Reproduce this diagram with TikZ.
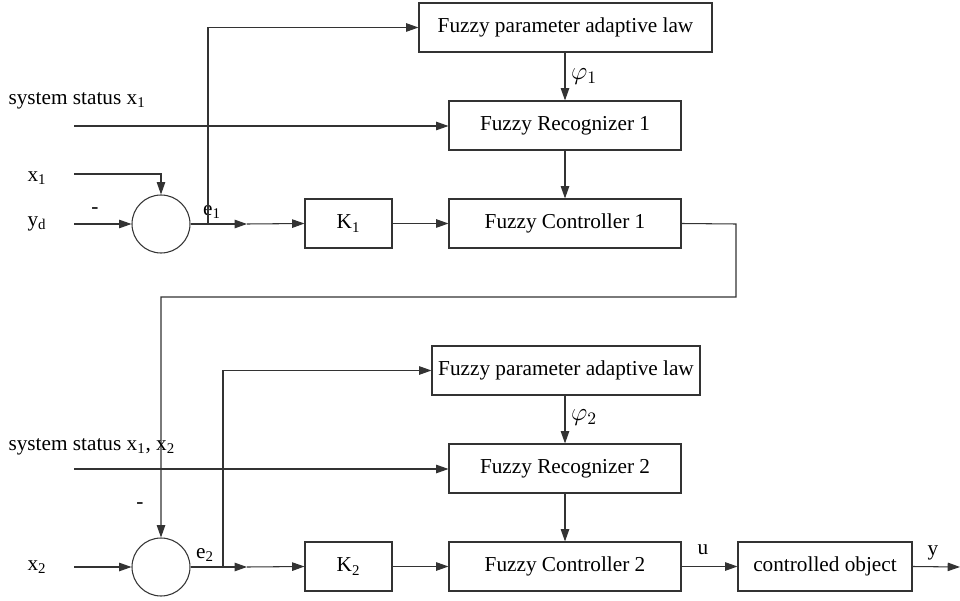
\documentclass[tikz,border=0pt]{standalone}
\usepackage{fontspec}
\setmainfont{Liberation Serif}
\usetikzlibrary{arrows.meta}
\newcommand{\sub}[1]{\textsubscript{#1}}
\begin{document}
\begin{tikzpicture}[x=0.02cm,y=-0.02cm,
  line width=0.6pt, draw=black!80,
  box/.style={draw=black!80, line width=0.6pt, minimum height=49*0.02cm, inner sep=0pt, font=\fontsize{12.1}{14}\selectfont},
  sumc/.style={draw=black!80, circle, minimum size=58*0.02cm, inner sep=0pt},
  lbl/.style={inner sep=0pt, font=\fontsize{12.1}{14}\selectfont},
  phil/.style={inner sep=0pt, font=\fontsize{14.5}{16}\selectfont},
  arr/.style={-{Triangle[length=7pt,width=4.8pt]}}
]
\useasboundingbox (0,0) rectangle (960,601);
% ---- upper loop ----
\node[box, minimum width=293*0.02cm] (al1) at (565.5,27.5) {Fuzzy parameter adaptive law};
\node[box, minimum width=232*0.02cm] (fr1) at (565,125.5) {Fuzzy Recognizer 1};
\node[box, minimum width=232*0.02cm] (fc1) at (565,223.5) {Fuzzy Controller 1};
\node[box, minimum width=87*0.02cm] (k1) at (348.5,223.5) {K\sub{1}};
\node[sumc] (s1) at (161,224) {};
\node[lbl, anchor=west] (lss1) at (8,101) {system status x\sub{1}};
\node[lbl] (lx1) at (37,178) {x\sub{1}};
\node[lbl] (lyd) at (37,224) {y\sub{d}};
\node[lbl] (m1) at (95,211) {-};
\node[lbl] (le1) at (212,212) {e\sub{1}};
\node[phil] (lp1) at (584,77) {$\varphi_1$};
\coordinate (i1) at (74,126);
\coordinate (i2) at (74,174);
\coordinate (i3) at (74,224);
\coordinate (a1) at (247,224);
\coordinate (b1) at (208,224);
\draw[arr] (i1) -- (i1 -| fr1.west);
\draw[arr] (i2) -| (s1.north);
\draw[arr] (i3) -- (s1.west);
\draw[arr] (s1.east) -- (a1);
\draw[arr] (a1) -- (k1.west);
\draw[arr] (b1) |- (al1.west);
\draw[arr] (k1.east) -- (fc1.west);
\draw[arr] (al1.south -| fr1) -- (fr1.north);
\draw[arr] (fr1.south) -- (fc1.north);
% ---- connection ----
\coordinate (c1) at (736,224);
\coordinate (c2) at (736,297);
\coordinate (c3) at (161,297);
\node[box, minimum width=268*0.02cm] (al2) at (566,370.5) {Fuzzy parameter adaptive law};
\node[box, minimum width=232*0.02cm] (fr2) at (565,468.5) {Fuzzy Recognizer 2};
\node[box, minimum width=232*0.02cm] (fc2) at (565,566.5) {Fuzzy Controller 2};
\node[box, minimum width=87*0.02cm] (k2) at (348.5,566.5) {K\sub{2}};
\node[box, minimum width=174*0.02cm] (obj) at (825,566.5) {controlled object};
\node[sumc] (s2) at (161,567) {};
\draw[arr] (fc1.east) -- (c1) -- (c2) -- (c3) -- (s2.north);
% ---- lower loop ----
\node[lbl, anchor=west] (lss2) at (8,447) {system status x\sub{1}, x\sub{2}};
\node[lbl] (lx2) at (37,567) {x\sub{2}};
\node[lbl] (m2) at (140,506) {-};
\node[lbl] (le2) at (205,555) {e\sub{2}};
\node[phil] (lp2) at (584,418) {$\varphi_2$};
\node[lbl] (lu) at (703,550) {u};
\node[lbl] (ly) at (933,553) {y};
\coordinate (j1) at (74,469);
\coordinate (j3) at (74,567);
\coordinate (a2) at (247,567);
\coordinate (b2) at (223,567);
\coordinate (yo) at (960,567);
\draw[arr] (j1) -- (j1 -| fr2.west);
\draw[arr] (j3) -- (s2.west);
\draw[arr] (s2.east) -- (a2);
\draw[arr] (a2) -- (k2.west);
\draw[arr] (b2) |- (al2.west);
\draw[arr] (k2.east) -- (fc2.west);
\draw[arr] (al2.south -| fr2) -- (fr2.north);
\draw[arr] (fr2.south) -- (fc2.north);
\draw[arr] (fc2.east) -- (obj.west);
\draw[arr] (obj.east) -- (yo);
\end{tikzpicture}
\end{document}
